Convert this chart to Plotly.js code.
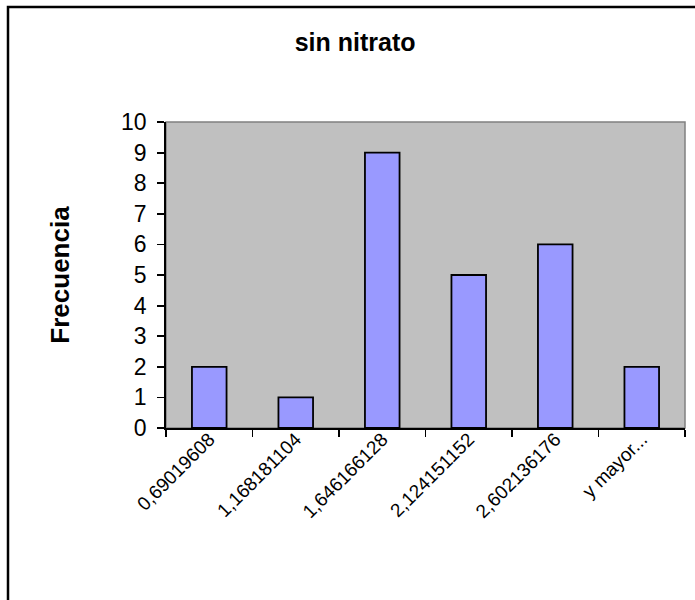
<!DOCTYPE html>
<html>
<head>
<meta charset="utf-8">
<script src="https://cdn.plot.ly/plotly-3.0.1.min.js"></script>
<style>
  html, body { margin: 0; padding: 0; background: #ffffff; }
  #chart { width: 695px; height: 600px; }
</style>
</head>
<body>
<div id="chart"></div>
<script>
// Histogram bins (class upper limits) and their counts
const clases = ["0,69019608", "1,168181104", "1,646166128", "2,124151152", "2,602136176", "y mayor..."];
const frecuencia = [2, 1, 9, 5, 6, 2];
const yTicks = [0, 1, 2, 3, 4, 5, 6, 7, 8, 9, 10];

const fontFam = "Arial, 'Liberation Sans', sans-serif";

const trace = {
  type: "bar",
  x: clases,
  y: frecuencia,
  marker: { color: "#9999FF", line: { color: "#000000", width: 1.8 } },
  hoverinfo: "x+y"
};

const layout = {
  width: 695,
  height: 600,
  margin: { l: 166, r: 10, t: 122, b: 172 },
  paper_bgcolor: "#ffffff",
  plot_bgcolor: "#C0C0C0",
  bargap: 0.6,
  showlegend: false,
  font: { family: fontFam, color: "#000000" },
  title: {
    text: "<b>sin nitrato</b>",
    font: { family: fontFam, size: 25, color: "#000000" },
    xref: "container", x: 0.511, xanchor: "center",
    yref: "container", y: 1 - 42 / 600, yanchor: "middle"
  },
  xaxis: {
    type: "category",
    tickson: "boundaries",
    ticks: "outside",
    ticklen: 7,
    tickwidth: 1.8,
    tickcolor: "#000000",
    tickangle: -45,
    ticklabelstandoff: -9,
    tickfont: { family: fontFam, size: 19, color: "#000000" },
    showline: true,
    linecolor: "#000000",
    linewidth: 1.8,
    showgrid: false,
    zeroline: false,
    fixedrange: true
  },
  yaxis: {
    range: [0, 10],
    tickvals: yTicks,
    ticktext: yTicks.map(String),
    ticks: "outside",
    ticklen: 7,
    tickwidth: 1.8,
    tickcolor: "#000000",
    ticklabelstandoff: 6,
    tickfont: { family: fontFam, size: 23, color: "#000000" },
    showline: true,
    linecolor: "#000000",
    linewidth: 1.8,
    showgrid: false,
    zeroline: false,
    fixedrange: true,
    title: {
      text: "<b>Frecuencia</b>",
      font: { family: fontFam, size: 26, color: "#000000" },
      standoff: 44
    }
  },
  shapes: [
    // grey frame on the top and right of the plot area
    {
      type: "rect", xref: "paper", yref: "paper",
      x0: 0, x1: 1, y0: 0, y1: 1,
      line: { color: "#808080", width: 1.5 },
      layer: "below"
    },
    // outer chart frame
    {
      type: "rect", xref: "paper", yref: "paper",
      x0: (8 - 166) / 519, x1: 1.2,
      y0: -1, y1: (428 - 7) / 306,
      line: { color: "#000000", width: 2.5 }
    }
  ]
};

Plotly.newPlot("chart", [trace], layout, { displayModeBar: false, staticPlot: true });
</script>
</body>
</html>
